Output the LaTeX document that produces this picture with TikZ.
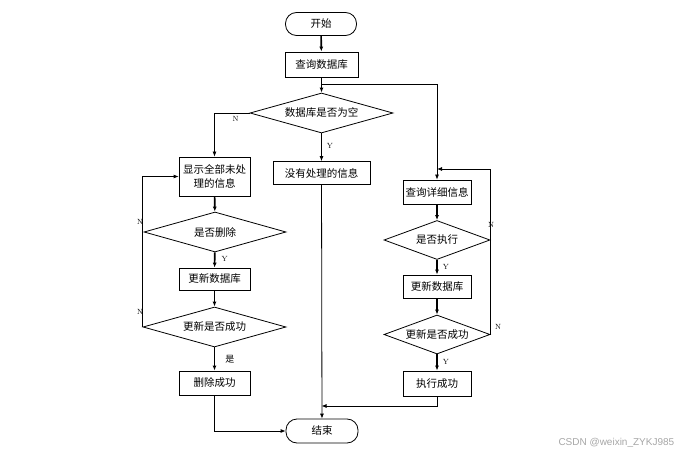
\documentclass[tikz,border=0pt]{standalone}
\usepackage{fontspec}
\newfontfamily\cjk{Noto Sans CJK SC}
\newfontfamily\wmfont{Liberation Sans}
\usetikzlibrary{arrows.meta,shapes.geometric}
\tikzset{>={Latex[width=4pt,length=5pt]}}
\tikzset{
  termbox/.style={draw, rounded corners=11pt, minimum width=71pt, minimum height=23pt, inner sep=0pt},
  procbox/.style={draw, minimum height=23pt, inner sep=1pt, align=center},
  decbox/.style={draw, diamond, aspect=3.5, inner sep=0pt},
  yn/.style={font=\fontsize{7.5}{8}\selectfont, inner sep=0pt},
  bold/.style={->, line width=1.6pt},
}

\begin{document}
\begin{tikzpicture}[x=1pt, y=-1pt, line width=0.8pt, font=\cjk\fontsize{10.5}{14}\selectfont]

  \useasboundingbox (0,0) rectangle (680,457);

  % main column
  \node[termbox] (start) at (321,24) {开始};
  \node[procbox, minimum width=73pt, minimum height=25pt] (query) at (321.5,64.5) {查询数据库};
  \node[decbox, minimum width=143pt, minimum height=40pt] (empty) at (321.5,113) {数据库是否为空};
  \node[procbox, minimum width=97pt] (none) at (321.5,173) {没有处理的信息};
  \node[termbox, minimum width=72pt, minimum height=24pt] (end) at (322,431) {结束};

  % left column
  \node[procbox, minimum width=71pt, minimum height=39pt] (show) at (214.5,176.5) {显示全部未处\\理的信息};
  \node[decbox, minimum width=142pt, minimum height=40pt] (isdel) at (215,232) {是否删除};
  \node[procbox, minimum width=71pt, minimum height=22pt] (updl) at (214.5,279) {更新数据库};
  \node[decbox, minimum width=143pt, minimum height=40pt] (okl) at (214.5,327) {更新是否成功};
  \node[procbox, minimum width=71pt, minimum height=24pt] (del) at (214.5,383) {删除成功};

  % right column
  \node[procbox, minimum width=68pt, minimum height=24pt] (detail) at (437,192) {查询详细信息};
  \node[decbox, minimum width=106pt, minimum height=39pt] (isexec) at (437,240) {是否执行};
  \node[procbox, minimum width=68pt] (updr) at (437,286.5) {更新数据库};
  \node[decbox, minimum width=106pt, minimum height=39pt] (okr) at (437,334.5) {更新是否成功};
  \node[procbox, minimum width=68pt, minimum height=25pt] (exec) at (437,383.5) {执行成功};

  \coordinate (fork) at (321.5,84);
  \coordinate (loopr) at (437,169);
  \coordinate (join) at (321.5,406);

  \draw[bold] (start) -- (query);
  \draw[bold] (query) -- (empty);
  \draw[->] (fork) -| (detail);

  \draw[->] (empty.west) -| node[yn, pos=0.2, below=3pt] {N} (show);
  \draw[->] (empty) -- node[yn, pos=0.45, right=5pt] {Y} (none);
  \draw[->] (none) -- (end);

  \draw[bold] (show) -- (isdel);
  \draw[bold] (isdel) -- node[yn, pos=0.4, right=6pt] {Y} (updl);
  \draw[bold] (updl) -- (okl);
  \draw[bold] (okl) -- node[yn, font=\cjk\fontsize{9}{10}\selectfont, pos=0.5, right=10pt] {是} (del);
  \draw[->] (okl.west) |- (show.west);
  \node[yn] (nl1) at (140,222) {N};
  \node[yn] (nl2) at (140,312) {N};
  \draw[->] (del) |- (end.west);

  \draw[bold] (detail) -- (isexec);
  \draw[bold] (isexec) -- node[yn, pos=0.45, right=5pt] {Y} (updr);
  \draw[bold] (updr) -- (okr);
  \draw[bold] (okr) -- node[yn, pos=0.45, right=5pt] {Y} (exec);
  \draw[->] (okr.east) |- (loopr);
  \node[yn] (nr1) at (491,225) {N};
  \node[yn] (nr2) at (498,327) {N};
  \draw[->] (exec) |- (join);

  \node[text=gray!70, font=\wmfont\fontsize{10}{12}\selectfont, anchor=east] (mark) at (678,443) {CSDN @weixin\_ZYKJ985};

\end{tikzpicture}
\end{document}
